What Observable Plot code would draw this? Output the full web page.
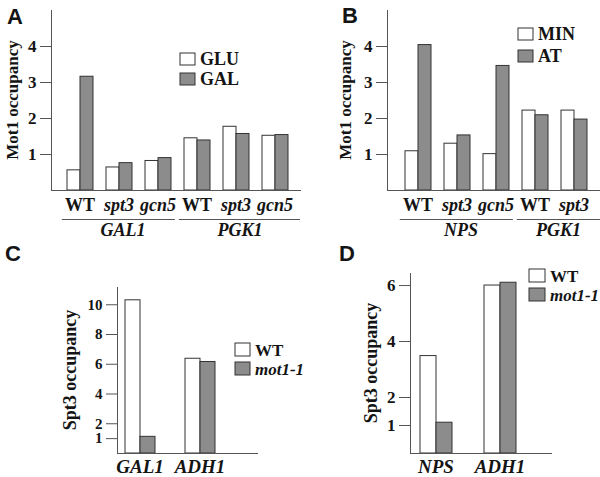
<!DOCTYPE html>
<html><head><meta charset="utf-8">
<script src="https://cdn.jsdelivr.net/npm/d3@7"></script>
<script src="https://cdn.jsdelivr.net/npm/@observablehq/plot@0.6"></script>
<style>
body{margin:0;background:#fff;}
#fig{position:relative;width:600px;height:477px;overflow:hidden;background:#fff;}
#fig > svg{position:absolute;}
</style></head><body><div id="fig"></div>
<script>
// ---------- Panel A ----------
const aGenes   = ["GAL1","GAL1","GAL1","PGK1","PGK1","PGK1"];
const aStrains = ["WT","spt3","gcn5","WT","spt3","gcn5"];
const aSeries  = ["GLU","GAL"];
const aGLU     = [0.56, 0.64, 0.82, 1.45, 1.77, 1.52];
const aGAL     = [3.16, 0.76, 0.90, 1.39, 1.57, 1.54];
const aTicks   = [1, 2, 3, 4];
// ---------- Panel B ----------
const bGenes   = ["NPS","NPS","NPS","PGK1","PGK1"];
const bStrains = ["WT","spt3","gcn5","WT","spt3"];
const bSeries  = ["MIN","AT"];
const bMIN     = [1.09, 1.30, 1.01, 2.22, 2.22];
const bAT      = [4.04, 1.53, 3.46, 2.09, 1.97];
const bTicks   = [1, 2, 3, 4];
// ---------- Panel C ----------
const cGenes   = ["GAL1","ADH1"];
const cSeries  = ["WT","mot1-1"];
const cWT      = [10.3, 6.37];
const cMot     = [1.12, 6.15];
const cTicks   = [1, 2, 4, 6, 8, 10];
// ---------- Panel D ----------
const dGenes   = ["NPS","ADH1"];
const dSeries  = ["WT","mot1-1"];
const dWT      = [3.48, 6.0];
const dMot     = [1.1, 6.1];
const dTicks   = [1, 2, 4, 6];

const SERIF = "'Liberation Serif','Times New Roman',serif";
const SANS = "'Liberation Sans',Arial,sans-serif";
const INK = "#141414";
const AXIS = "#555";
const FILLS = ["#ffffff", "#8c8c8c"];
const italicName = s => s !== "WT" && !/^[A-Z]+$/.test(s);

function addText(sel, x, y, str, o = {}) {
  return sel.append("text").attr("x", x).attr("y", y)
    .attr("text-anchor", o.anchor || "middle")
    .style("font-size", (o.size || 16) + "px")
    .style("font-style", o.italic ? "italic" : "normal")
    .style("font-weight", "bold")
    .style("font-family", o.family || SERIF)
    .attr("fill", INK)
    .attr("transform", o.transform || null)
    .text(str);
}

function panel(cfg) {
  const domain = [], rows = [];
  cfg.groups.forEach((g, i) => {
    if (i > 0) for (let k = 0; k < cfg.spacers; k++) domain.push(`sp${i}_${k}`);
    cfg.series.forEach((s, j) => {
      const key = `${i}|${s}`;
      domain.push(key);
      rows.push({key, series: s, value: cfg.values[j][i]});
    });
  });
  const chart = Plot.plot({
    width: cfg.width, height: cfg.height,
    marginLeft: cfg.ml, marginRight: cfg.mr, marginTop: cfg.mt, marginBottom: cfg.mb,
    style: {fontFamily: SERIF, fontWeight: "bold", fontSize: cfg.tickFont + "px", color: INK, background: "transparent", overflow: "visible"},
    x: {type: "band", domain, paddingInner: 0, paddingOuter: cfg.po, align: cfg.align, axis: null},
    y: {domain: [0, cfg.yMax], axis: null},
    color: {domain: cfg.series, range: FILLS},
    marks: [
      Plot.barY(rows, {x: "key", y: "value", fill: "series", stroke: "#333", strokeWidth: 1}),
      Plot.axisY(cfg.ticks, {tickSize: 11, tickPadding: 4, stroke: AXIS, fill: INK, label: null, fontSize: cfg.tickFont}),
      Plot.frame({anchor: "left", stroke: AXIS}),
      Plot.frame({anchor: "bottom", stroke: AXIS})
    ]
  });
  chart.style.left = cfg.left + "px";
  chart.style.top = cfg.top + "px";
  document.getElementById("fig").appendChild(chart);

  const svg = d3.select(chart);
  const xs = chart.scale("x");
  const bw = xs.bandwidth;
  const bottom = cfg.height - cfg.mb;
  const ns = cfg.series.length;
  const groupStart = i => xs.apply(`${i}|${cfg.series[0]}`);
  const groupCenter = i => groupStart(i) + bw * ns / 2;

  const yc = (cfg.mt + bottom) / 2;
  addText(svg, 0, 0, cfg.yLabel, {size: cfg.yLabelFont, transform: `translate(${cfg.yLabelX},${yc}) rotate(-90)`});

  addText(svg, cfg.letterX, cfg.letterY, cfg.letter, {size: 22, family: SANS, anchor: "start"});

  if (cfg.strains) {
    cfg.strains.forEach((s, i) => addText(svg, groupCenter(i), bottom + 21, s, {size: cfg.catFont, italic: italicName(s)}));
    const genes = [...new Set(cfg.groups)];
    genes.forEach((g, gi) => {
      const idx = cfg.groups.map((v, i) => v === g ? i : -1).filter(i => i >= 0);
      const first = idx[0], last = idx[idx.length - 1];
      const x1 = groupStart(first) - 0.4 * bw;
      const x2 = gi === genes.length - 1 ? cfg.width : groupStart(last) + bw * ns + 0.3 * bw;
      svg.append("line").attr("x1", x1).attr("x2", x2).attr("y1", bottom + 29.5).attr("y2", bottom + 29.5)
        .attr("stroke", AXIS).attr("stroke-width", 1);
      const cx = d3.mean(idx, groupCenter) + 4;
      addText(svg, cx, bottom + 46, g, {size: cfg.catFont, italic: true});
    });
  } else {
    cfg.groups.forEach((g, i) => addText(svg, groupCenter(i), bottom + 20, g, {size: cfg.catFont, italic: true}));
  }

  const L = cfg.legend;
  cfg.series.forEach((s, j) => {
    svg.append("rect").attr("x", L.x).attr("y", L.y + j * L.gap).attr("width", L.w).attr("height", L.h)
      .attr("fill", FILLS[j]).attr("stroke", "#333").attr("stroke-width", 1);
    addText(svg, L.x + L.w + 5, L.y + j * L.gap + L.h - 0.5, s, {size: L.font, anchor: "start", italic: italicName(s)});
  });
}

panel({
  left: 0, top: 0, width: 300, height: 240, ml: 51, mr: 0, mt: 10, mb: 50,
  groups: aGenes, strains: aStrains, series: aSeries, values: [aGLU, aGAL], spacers: 1,
  po: 0.7, align: 0.58, yMax: 5, ticks: aTicks, tickFont: 17,
  yLabel: "Mot1 occupancy", yLabelFont: 17, yLabelX: 18, catFont: 18,
  letter: "A", letterX: 7, letterY: 24,
  legend: {x: 180, y: 53, gap: 20, w: 15, h: 12, font: 18}
});
panel({
  left: 300, top: 0, width: 300, height: 240, ml: 87, mr: 0, mt: 10, mb: 50,
  groups: bGenes, strains: bStrains, series: bSeries, values: [bMIN, bAT], spacers: 1,
  po: 0.68, align: 0.58, yMax: 5, ticks: bTicks, tickFont: 17,
  yLabel: "Mot1 occupancy", yLabelFont: 17, yLabelX: 51, catFont: 18,
  letter: "B", letterX: 42, letterY: 23,
  legend: {x: 218, y: 28, gap: 22, w: 15, h: 12, font: 18}
});
panel({
  left: 0, top: 240, width: 300, height: 237, ml: 117, mr: 43, mt: 47, mb: 24,
  groups: cGenes, series: cSeries, values: [cWT, cMot], spacers: 2,
  po: 1.42, align: 0.156, yMax: 11.16, ticks: cTicks, tickFont: 15,
  yLabel: "Spt3 occupancy", yLabelFont: 18, yLabelX: 76, catFont: 19,
  letter: "C", letterX: 5, letterY: 21,
  legend: {x: 235, y: 103, gap: 19, w: 15, h: 13, font: 17}
});
panel({
  left: 300, top: 240, width: 300, height: 237, ml: 110, mr: 49, mt: 33, mb: 24,
  groups: dGenes, series: dSeries, values: [dWT, dMot], spacers: 2,
  po: 1.27, align: 0.214, yMax: 6.43, ticks: dTicks, tickFont: 17,
  yLabel: "Spt3 occupancy", yLabelFont: 18, yLabelX: 77, catFont: 19,
  letter: "D", letterX: 39, letterY: 21,
  legend: {x: 229, y: 29, gap: 19, w: 16, h: 13, font: 17}
});
</script></body></html>
